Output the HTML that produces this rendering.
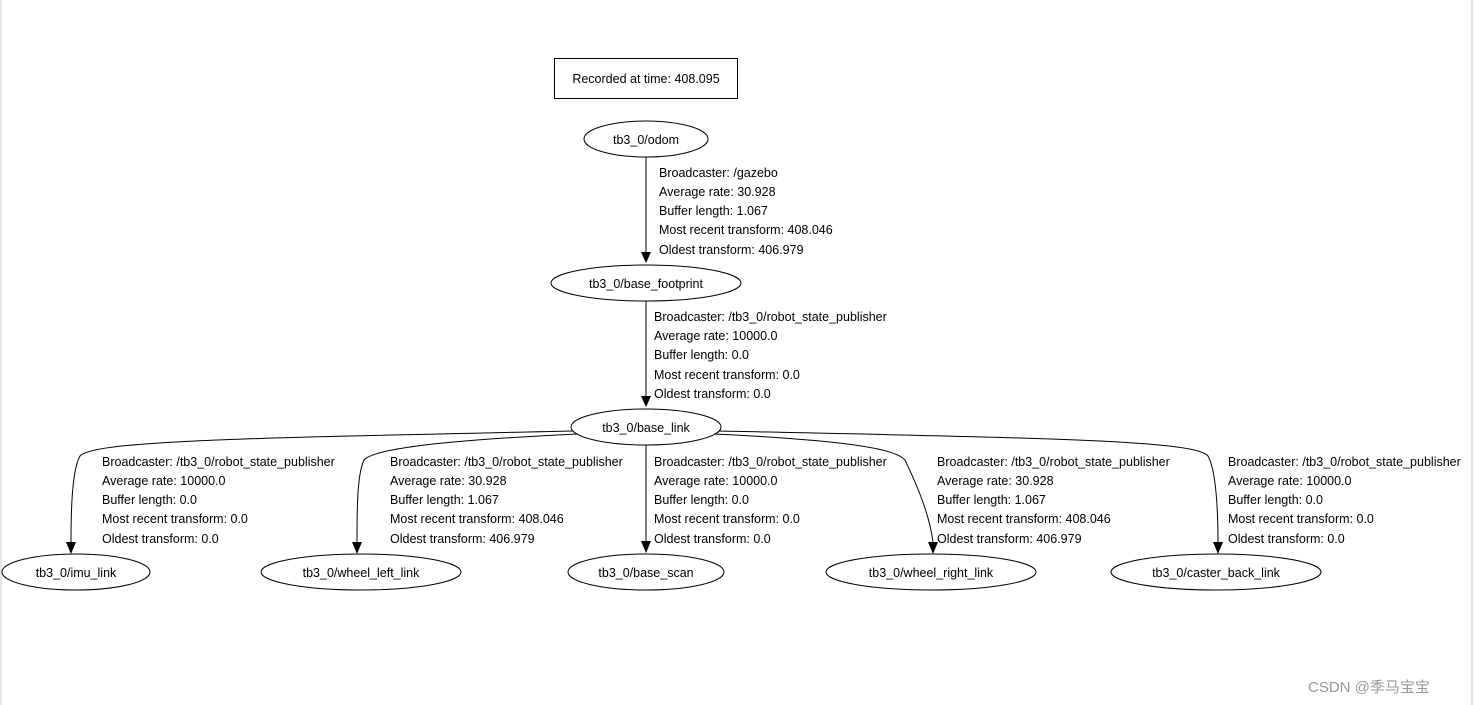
<!DOCTYPE html>
<html><head><meta charset="utf-8"><style>
html,body{margin:0;padding:0;background:#fff;}
svg{display:block}
text{font-family:"Liberation Sans",sans-serif;font-size:12.5px;fill:#000;}
.n{text-anchor:middle;}
</style></head><body>
<svg width="1475" height="705" viewBox="0 0 1475 705" xmlns="http://www.w3.org/2000/svg">
<rect x="0" y="0" width="1475" height="705" fill="#fff"/>
<line x1="1" y1="0" x2="1" y2="705" stroke="#ddd" stroke-width="1.5"/>
<line x1="1472" y1="0" x2="1472" y2="705" stroke="#ddd" stroke-width="1.5"/>
<g fill="none" stroke="#000" stroke-width="1">
<rect x="554.5" y="58.5" width="183" height="40"/>
<ellipse cx="646" cy="139" rx="62" ry="18"/>
<ellipse cx="646" cy="283" rx="95" ry="18"/>
<ellipse cx="646" cy="427" rx="75" ry="18"/>
<ellipse cx="76" cy="572" rx="74" ry="18"/>
<ellipse cx="361" cy="572" rx="100" ry="18"/>
<ellipse cx="646" cy="572" rx="78" ry="18"/>
<ellipse cx="931" cy="572" rx="105" ry="18"/>
<ellipse cx="1216" cy="572" rx="105" ry="18"/>
<path d="M646,157 L646,252"/>
<path d="M646,301 L646,396"/>
<path d="M646,445 L646,541"/>
<path d="M573,431 C260,438 95,440 80,456 C72,470 71,510 71,542"/>
<path d="M578,434 C450,440 375,448 364,460 C357,475 357,510 357,542"/>
<path d="M714,434 C840,440 895,448 905,460 C912,475 929,510 933,542"/>
<path d="M719,431 C1040,438 1195,440 1208,456 C1216,470 1218,510 1218,542"/>
</g>
<g fill="#000">
<path d="M641,252 L651,252 L646,263 Z"/>
<path d="M641,396 L651,396 L646,407 Z"/>
<path d="M641,541 L651,541 L646,553 Z"/>
<path d="M66,542 L76,542 L71,554 Z"/>
<path d="M352,542 L362,542 L357,554 Z"/>
<path d="M928,542 L938,542 L933,554 Z"/>
<path d="M1213,542 L1223,542 L1218,554 Z"/>
</g>
<text class="n" x="646" y="83">Recorded at time: 408.095</text>
<text class="n" x="646" y="144">tb3_0/odom</text>
<text class="n" x="646" y="288">tb3_0/base_footprint</text>
<text class="n" x="646" y="432">tb3_0/base_link</text>
<text class="n" x="76" y="577">tb3_0/imu_link</text>
<text class="n" x="361" y="577">tb3_0/wheel_left_link</text>
<text class="n" x="646" y="577">tb3_0/base_scan</text>
<text class="n" x="931" y="577">tb3_0/wheel_right_link</text>
<text class="n" x="1216" y="577">tb3_0/caster_back_link</text>
<g>
<text x="659" y="177">Broadcaster: /gazebo</text>
<text x="659" y="196">Average rate: 30.928</text>
<text x="659" y="215">Buffer length: 1.067</text>
<text x="659" y="234">Most recent transform: 408.046</text>
<text x="659" y="254">Oldest transform: 406.979</text>

<text x="654" y="321">Broadcaster: /tb3_0/robot_state_publisher</text>
<text x="654" y="340">Average rate: 10000.0</text>
<text x="654" y="359">Buffer length: 0.0</text>
<text x="654" y="379">Most recent transform: 0.0</text>
<text x="654" y="398">Oldest transform: 0.0</text>

<text x="102" y="466">Broadcaster: /tb3_0/robot_state_publisher</text>
<text x="102" y="485">Average rate: 10000.0</text>
<text x="102" y="504">Buffer length: 0.0</text>
<text x="102" y="523">Most recent transform: 0.0</text>
<text x="102" y="543">Oldest transform: 0.0</text>

<text x="390" y="466">Broadcaster: /tb3_0/robot_state_publisher</text>
<text x="390" y="485">Average rate: 30.928</text>
<text x="390" y="504">Buffer length: 1.067</text>
<text x="390" y="523">Most recent transform: 408.046</text>
<text x="390" y="543">Oldest transform: 406.979</text>

<text x="654" y="466">Broadcaster: /tb3_0/robot_state_publisher</text>
<text x="654" y="485">Average rate: 10000.0</text>
<text x="654" y="504">Buffer length: 0.0</text>
<text x="654" y="523">Most recent transform: 0.0</text>
<text x="654" y="543">Oldest transform: 0.0</text>

<text x="937" y="466">Broadcaster: /tb3_0/robot_state_publisher</text>
<text x="937" y="485">Average rate: 30.928</text>
<text x="937" y="504">Buffer length: 1.067</text>
<text x="937" y="523">Most recent transform: 408.046</text>
<text x="937" y="543">Oldest transform: 406.979</text>

<text x="1228" y="466">Broadcaster: /tb3_0/robot_state_publisher</text>
<text x="1228" y="485">Average rate: 10000.0</text>
<text x="1228" y="504">Buffer length: 0.0</text>
<text x="1228" y="523">Most recent transform: 0.0</text>
<text x="1228" y="543">Oldest transform: 0.0</text>
</g>
<text x="1308" y="692" style="font-family:'Liberation Sans','Noto Sans CJK SC',sans-serif;font-size:15px;fill:#999">CSDN @季马宝宝</text>
</svg>
</body></html>
